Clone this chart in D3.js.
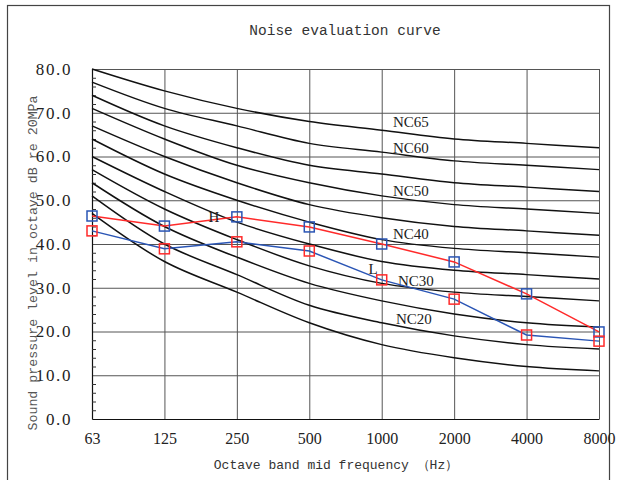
<!DOCTYPE html>
<html>
<head>
<meta charset="utf-8">
<script src="https://cdn.jsdelivr.net/npm/d3@7"></script>
<style>
  html, body { margin: 0; padding: 0; background: #fff; }
  svg { display: block; }
</style>
</head>
<body>
<svg id="chart" width="618" height="480"></svg>
<script>
// ---- data ----
const frequencies = ["63", "125", "250", "500", "1000", "2000", "4000", "8000"];
const yTicks = [0, 10, 20, 30, 40, 50, 60, 70, 80];
const ncNames = ["NC15", "NC20", "NC25", "NC30", "NC35", "NC40", "NC45", "NC50", "NC55", "NC60", "NC65"];
const nc15 = [47, 36, 29, 22, 17, 14, 12, 11];
const nc20 = [51, 40, 33, 26, 22, 19, 17, 16];
const nc25 = [54, 44, 37, 31, 27, 24, 22, 21];
const nc30 = [57, 48, 41, 35, 31, 29, 28, 27];
const nc35 = [60, 52, 45, 40, 36, 34, 33, 32];
const nc40 = [64, 56, 50, 45, 41, 39, 38, 37];
const nc45 = [67, 60, 54, 49, 46, 44, 43, 42];
const nc50 = [71, 64, 58, 54, 51, 49, 48, 47];
const nc55 = [74, 67, 62, 58, 56, 54, 53, 52];
const nc60 = [77, 71, 67, 63, 61, 59, 58, 57];
const nc65 = [80, 75, 71, 68, 66, 64, 63, 62];
const ncCurves = [nc15, nc20, nc25, nc30, nc35, nc40, nc45, nc50, nc55, nc60, nc65];
const seriesH = [46.4, 44.1, 46.2, 43.9, 40.0, 35.9, 28.6, 19.9];
const seriesL = [43.0, 38.9, 40.5, 38.4, 31.8, 27.4, 19.2, 17.8];
const labeledNC = ["NC65", "NC60", "NC50", "NC40", "NC30", "NC20"];
const labelText = {title: "Noise evaluation curve",
  xTitle: "Octave band mid frequency （Hz）",
  yTitle: "Sound pressure level in octave dB re 20MPa"};

// ---- layout ----
const MONO = '"Liberation Mono", "DejaVu Sans Mono", monospace';
const SERIF = '"Liberation Serif", "DejaVu Serif", serif';
const svg = d3.select("#chart");
const pL = 92, pR = 599, pT = 69, pB = 419;
const x = d3.scalePoint().domain(frequencies).range([pL, pR]);
const y = d3.scaleLinear().domain([0, 80]).range([pB, pT]);

// outer frame
svg.append("rect").attr("x", 7.5).attr("y", 5.5).attr("width", 602).attr("height", 490)
  .attr("fill", "none").attr("stroke", "#444").attr("stroke-width", 1.2);

// title
svg.append("text").attr("x", 345).attr("y", 35).attr("text-anchor", "middle")
  .style("font-family", MONO).style("font-size", "14.5px").attr("fill", "#333").text(labelText.title);

// grid
const grid = svg.append("g");
grid.selectAll("line.h").data(yTicks.filter(d => d > 0)).join("line")
  .attr("x1", pL).attr("x2", pR).attr("y1", d => y(d) + 0.5).attr("y2", d => y(d) + 0.5)
  .attr("stroke", "#555").attr("stroke-width", 1);
grid.selectAll("line.v").data(frequencies.slice(1)).join("line")
  .attr("x1", d => x(d) + 0.5).attr("x2", d => x(d) + 0.5).attr("y1", pT).attr("y2", pB)
  .attr("stroke", "#555").attr("stroke-width", 1);

// y axis
const yAxis = svg.append("g").attr("transform", `translate(${pL},0)`)
  .call(d3.axisLeft(y).tickValues(yTicks).tickFormat(d3.format(".1f")).tickSize(0).tickPadding(20));
yAxis.select(".domain").attr("stroke", "#111").attr("stroke-width", 1.2);
yAxis.selectAll("text").style("font-size", "17px").style("font-family", SERIF)
  .style("letter-spacing", "1.6px").attr("fill", "#222");
// minor ticks
svg.append("g").selectAll("line").data(d3.range(2, 80, 2).filter(d => d % 10 !== 0)).join("line")
  .attr("x1", pL).attr("x2", pL + 4).attr("y1", d => y(d) + 0.5).attr("y2", d => y(d) + 0.5)
  .attr("stroke", "#333");

// x axis
const xAxis = svg.append("g").attr("transform", `translate(0,${pB})`)
  .call(d3.axisBottom(x).tickSize(0).tickPadding(14));
xAxis.select(".domain").attr("stroke", "#111").attr("stroke-width", 1.2);
xAxis.selectAll("text").style("font-size", "16px").style("font-family", SERIF).attr("fill", "#222");

// axis titles
svg.append("text").attr("x", 336).attr("y", 469).attr("text-anchor", "middle")
  .style("font-family", MONO).style("font-size", "13px").attr("fill", "#333").text(labelText.xTitle);
svg.append("text").attr("transform", "translate(37,263) rotate(-90)").attr("text-anchor", "middle")
  .style("font-family", MONO).style("font-size", "13.3px").attr("fill", "#555").text(labelText.yTitle);

// NC curves
const line = d3.line().x((d, i) => x(frequencies[i])).y(d => y(d)).curve(d3.curveCatmullRom.alpha(0.5));
svg.append("g").selectAll("path").data(ncCurves).join("path")
  .attr("d", line).attr("fill", "none").attr("stroke", "#111").attr("stroke-width", 1.5);

// NC labels
const labelPos = {NC65: [393, 122], NC60: [393, 148], NC50: [393, 191], NC40: [393, 234], NC30: [398, 281], NC20: [396, 319]};
svg.append("g").selectAll("text").data(labeledNC).join("text")
  .attr("x", d => labelPos[d][0]).attr("y", d => labelPos[d][1] + 5)
  .style("font-size", "15px").style("font-family", SERIF).attr("fill", "#222").text(d => d);

// series
const red = "#ff2a2a", blue = "#2a55b5";
function drawSeries(vals, lineColor, markColor) {
  const g = svg.append("g");
  g.append("path").datum(vals).attr("d", d3.line().x((d, i) => x(frequencies[i])).y(d => y(d)))
    .attr("fill", "none").attr("stroke", lineColor).attr("stroke-width", 1.5);
  g.selectAll("rect").data(vals).join("rect")
    .attr("x", (d, i) => x(frequencies[i]) - 5).attr("y", d => y(d) - 5)
    .attr("width", 10).attr("height", 10).attr("fill", "none")
    .attr("stroke", markColor).attr("stroke-width", 1.5);
}
drawSeries(seriesH, red, blue);
drawSeries(seriesL, blue, red);

svg.append("text").attr("x", 214).attr("y", 222).attr("text-anchor", "middle")
  .style("font-size", "15px").style("font-family", SERIF).attr("fill", "#222").text("H");
svg.append("text").attr("x", 373).attr("y", 274).attr("text-anchor", "middle")
  .style("font-size", "15px").style("font-family", SERIF).attr("fill", "#222").text("L");
</script>
</body>
</html>
